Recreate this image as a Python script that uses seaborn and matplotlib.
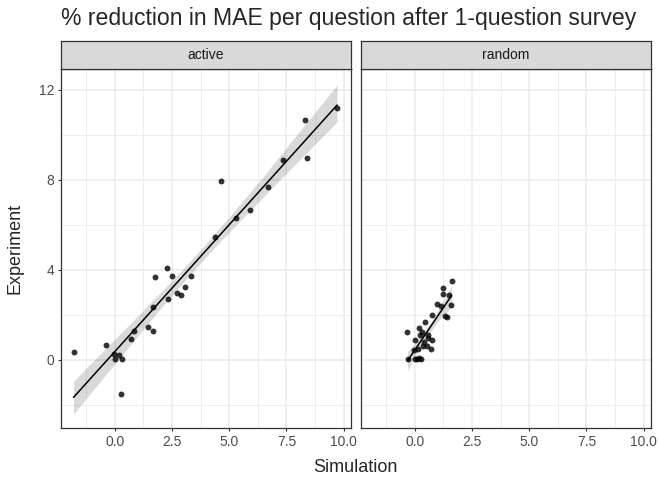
import numpy as np
import pandas as pd
import matplotlib
matplotlib.use("Agg")
import matplotlib.pyplot as plt
import seaborn as sns

# values
active_sim = [-1.80, -0.39, -0.01, 0.01, 0.19, 0.31, 0.28, 0.71, 0.84, 1.44,
              1.67, 1.66, 1.74, 2.28, 2.51, 2.34, 2.72, 2.91, 3.08, 3.33,
              4.40, 4.65, 5.32, 5.92, 6.70, 7.37, 8.30, 8.40, 9.72]
active_exp = [0.36, 0.64, 0.27, 0.03, 0.22, 0.03, -1.51, 0.93, 1.26, 1.45,
              1.29, 2.34, 3.69, 4.09, 3.73, 2.71, 2.96, 2.89, 3.24, 3.73,
              5.44, 7.97, 6.31, 6.65, 7.67, 8.89, 10.67, 8.98, 11.20]

random_sim = [-0.32, -0.31, 0.00, 0.19, 0.31, 0.47, 0.00, 0.09, 0.19, 0.28,
              -0.03, 0.15, 0.39, 0.58, 0.74, 0.52, 0.70, 0.35, 0.23, 0.76,
              0.97, 1.22, 1.22, 1.51, 1.61, 1.57, 1.31, 1.16, 1.40, 0.60]
random_exp = [1.24, 0.03, 0.89, 1.39, 1.24, 1.67, 0.03, 0.03, 0.06, 0.03,
              0.44, 0.47, 0.81, 0.95, 0.89, 0.62, 0.47, 0.59, 1.10, 2.01,
              2.50, 3.21, 2.92, 2.89, 3.51, 2.43, 1.93, 2.37, 1.90, 1.11]

groups = ["active", "random"]
title = "% reduction in MAE per question after 1-question survey"

df = pd.concat([
    pd.DataFrame({"Simulation": active_sim, "Experiment": active_exp, "method": "active"}),
    pd.DataFrame({"Simulation": random_sim, "Experiment": random_exp, "method": "random"}),
], ignore_index=True)

sns.set_style("white")
plt.rcParams["font.family"] = ["Liberation Sans", "DejaVu Sans"]

W, H = 660, 480
fig = plt.figure(figsize=(W / 100, H / 100), dpi=100)

panel_x = [(60.7, 350.7), (360.7, 650.7)]
p_top, p_bot, s_top = 69.0, 428.3, 40.7

for i, grp in enumerate(groups):
    x0, x1 = panel_x[i]
    ax = fig.add_axes([x0 / W, 1 - p_bot / H, (x1 - x0) / W, (p_bot - p_top) / H])
    sub = df[df["method"] == grp]
    sns.regplot(data=sub, x="Simulation", y="Experiment", ax=ax, seed=0,
                scatter_kws=dict(s=18, color="black", alpha=0.8, linewidths=0, zorder=3),
                line_kws=dict(color="black", lw=1.1, zorder=4, alpha=1),
                color="#999999")
    ax.set_xlim(-2.36, 10.31)
    ax.set_ylim(-3.05, 12.93)
    ax.set_xticks([0, 2.5, 5, 7.5, 10])
    ax.set_xticklabels(["0.0", "2.5", "5.0", "7.5", "10.0"])
    ax.set_xticks([-1.25, 1.25, 3.75, 6.25, 8.75], minor=True)
    ax.set_yticks([0, 4, 8, 12])
    ax.set_yticks([-2, 2, 6, 10], minor=True)
    ax.grid(True, which="major", color="#EBEBEB", lw=1.1, zorder=0)
    ax.grid(True, which="minor", color="#EBEBEB", lw=0.6, zorder=0)
    ax.set_axisbelow(True)
    ax.set_xlabel("")
    ax.set_ylabel("")
    for sp in ax.spines.values():
        sp.set_color("#333333")
        sp.set_linewidth(0.9)
    ax.tick_params(which="major", length=2.5, width=0.8, color="#333333",
                   labelsize=10, labelcolor="#4D4D4D", pad=2, bottom=True, left=True)
    ax.tick_params(which="minor", length=0)
    if i > 0:
        ax.tick_params(labelleft=False, left=False)

    # facet strip
    sx = fig.add_axes([x0 / W, 1 - p_top / H, (x1 - x0) / W, (p_top - s_top) / H])
    sx.set_facecolor("#D9D9D9")
    sx.set_xticks([])
    sx.set_yticks([])
    for sp in sx.spines.values():
        sp.set_color("#333333")
        sp.set_linewidth(0.9)
    sx.text(0.5, 0.5, grp, ha="center", va="center", fontsize=10, color="#1A1A1A",
            transform=sx.transAxes)

fig.text(60.7 / W, 1 - 25 / H, title, ha="left", va="baseline", fontsize=16.6)
fig.text(355.7 / W, 1 - 472 / H, "Simulation", ha="center", va="baseline", fontsize=13)
fig.text(15 / W, 1 - 248.6 / H, "Experiment", ha="center", va="center",
         rotation=90, fontsize=13)

fig.savefig("out.png", dpi=100)
